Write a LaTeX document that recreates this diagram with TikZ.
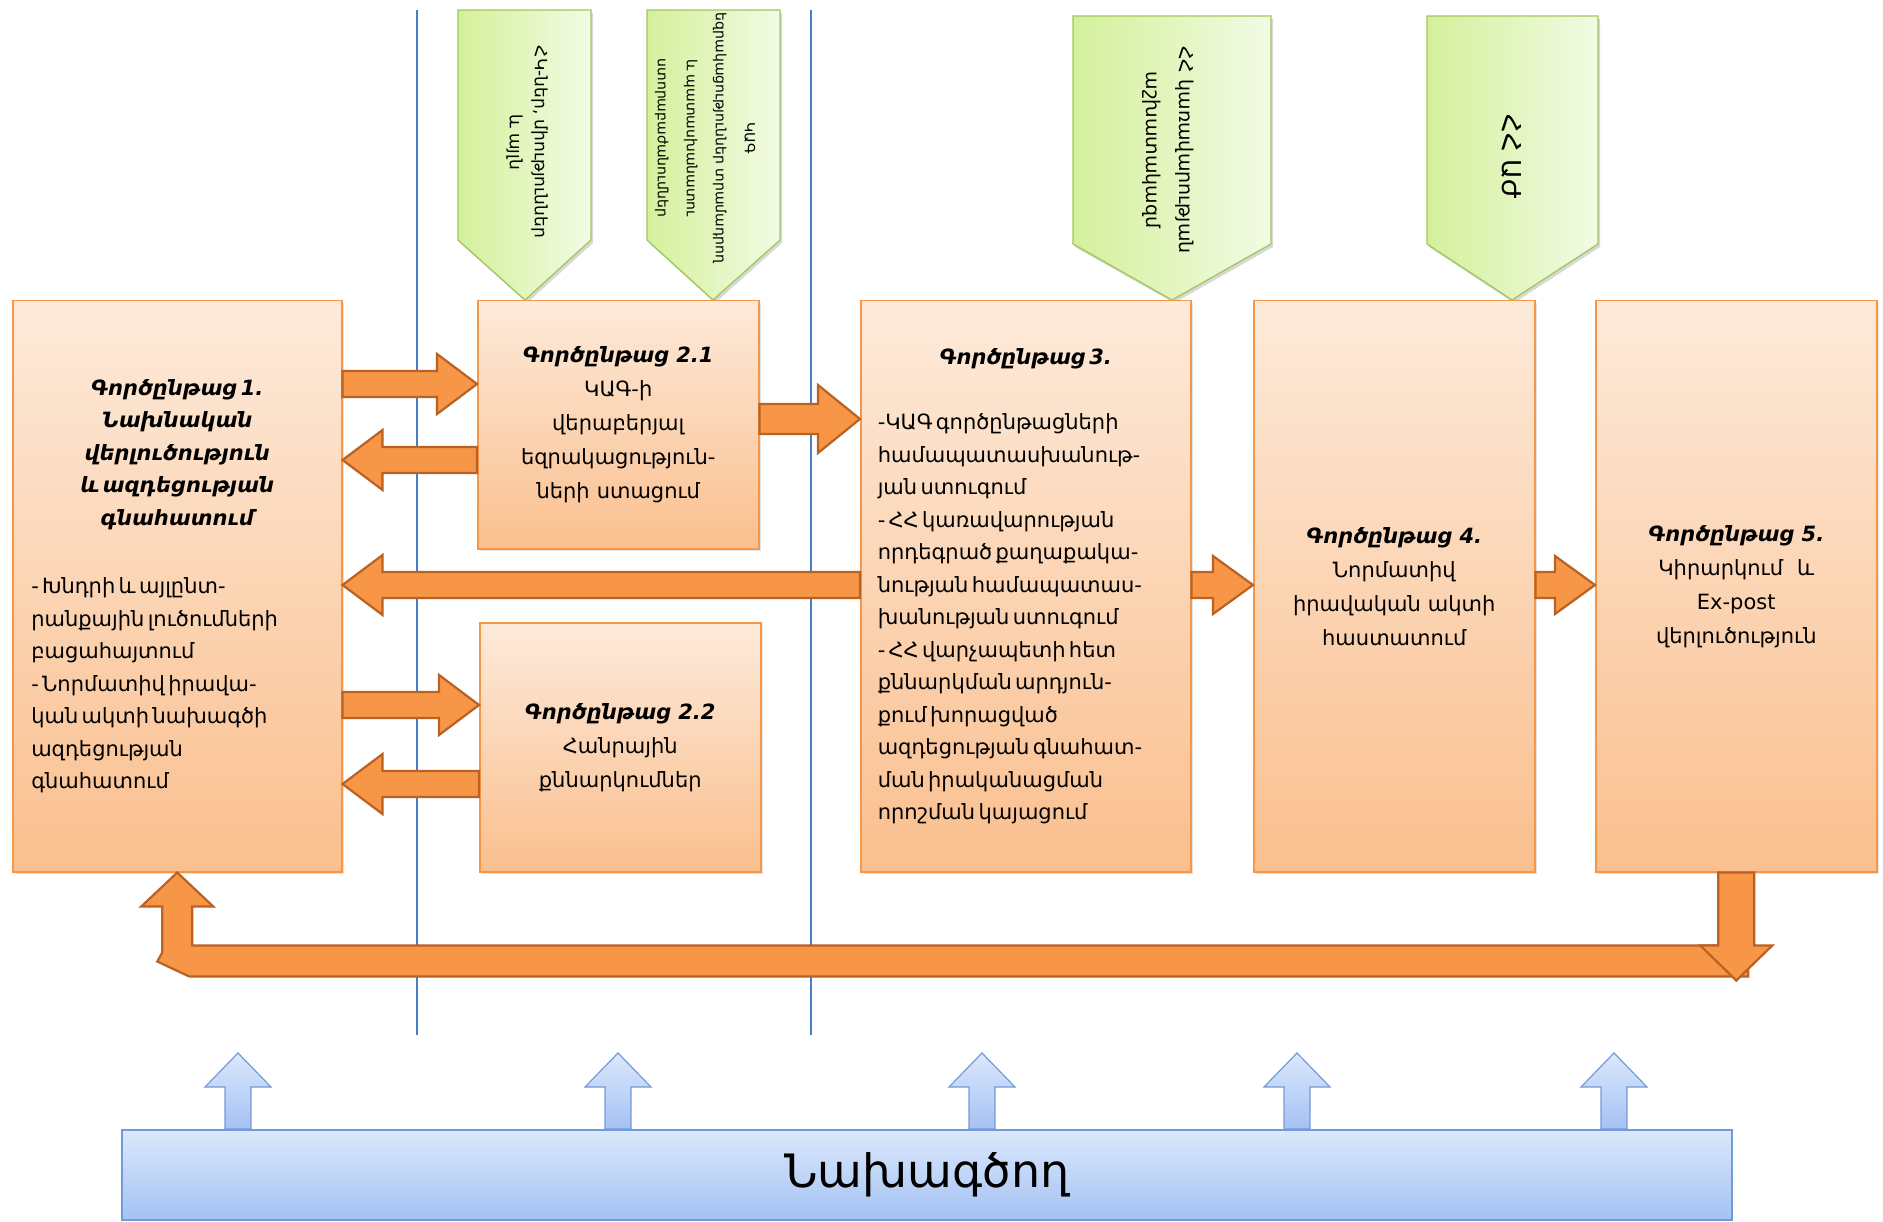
\documentclass[tikz,border=0pt]{standalone}
\usepackage{fontspec}
\setmainfont{DejaVu Sans}
\usetikzlibrary{calc,shadows}
\setlength\parindent{0pt}
\hyphenpenalty=10000
\exhyphenpenalty=10000
\definecolor{oborder}{RGB}{247,150,70}
\definecolor{otop}{RGB}{253,234,218}
\definecolor{obot}{RGB}{250,191,142}
\definecolor{oarr}{RGB}{247,150,70}
\definecolor{oarrd}{RGB}{185,98,36}
\definecolor{gborder}{RGB}{160,200,95}
\definecolor{gleft}{RGB}{212,240,155}
\definecolor{gright}{RGB}{242,251,228}
\definecolor{btop}{RGB}{220,232,252}
\definecolor{bbot}{RGB}{164,194,243}
\definecolor{bborder}{RGB}{115,155,215}
\definecolor{vline}{RGB}{72,125,200}
\newcommand\bodyfont{\fontsize{21}{32.5}\selectfont}
\newcommand\cfont{\fontsize{21}{34}\selectfont}
\newcommand\harrow[5]{%
  \path[oarrow] let \p1=#1, \p2=#2, \p3=($(\p2)!#5!(\p1)$) in
  (\x1,\y1+#3) -- (\x3,\y1+#3) -- (\x3,\y1+#4) -- (\x2,\y2) --
  (\x3,\y1-#4) -- (\x3,\y1-#3) -- (\x1,\y1-#3) -- cycle;}
\newcommand\uparr[2]{%
  \path[barrow] let \p1=#1, \p2=#2 in
  (\x1-13pt,\y1) -- (\x1-13pt,\y2-34pt) -- (\x1-33pt,\y2-34pt) -- (\x1,\y2) --
  (\x1+33pt,\y2-34pt) -- (\x1+13pt,\y2-34pt) -- (\x1+13pt,\y1) -- cycle;}
\tikzset{
  pbox/.style={draw=oborder, line width=1.5pt, top color=otop, bottom color=obot,
    anchor=north west, inner sep=0pt, text=black,
    drop shadow={opacity=0.22, shadow xshift=2pt, shadow yshift=-2pt}},
  oarrow/.style={fill=oarr, draw=oarrd, line width=2.2pt, line join=miter},
  barrow/.style={top color=btop, bottom color=bbot, draw=bborder, line width=1.2pt},
  gcall/.style={draw=gborder, line width=1.3pt, left color=gleft, right color=gright,
    drop shadow={opacity=0.3, shadow xshift=2pt, shadow yshift=-3pt}},
  ctext/.style={rotate=-90, align=center, inner sep=0pt, text=black},
  vsep/.style={draw=vline, line width=2pt}
}
\begin{document}
\begin{tikzpicture}[x=1pt,y=-1pt]
\useasboundingbox (0,0) rectangle (1883,1222);
\fill[white] (0,0) rectangle (1883,1222);

% separators
\draw[vsep] (417,10) -- (417,1035);
\draw[vsep] (811,10) -- (811,1035);

% green callouts
\path[gcall] (458,10) -- (591,10) -- (591,240) -- (525,300) -- (458,240) -- cycle;
\path[gcall] (647,10) -- (780,10) -- (780,240) -- (713,300) -- (647,240) -- cycle;
\path[gcall] (1073,16) -- (1271,16) -- (1271,244) -- (1172,300) -- (1073,244) -- cycle;
\path[gcall] (1427,16) -- (1598,16) -- (1598,244) -- (1512,300) -- (1427,244) -- cycle;
\node[ctext, font=\fontsize{17}{25}\selectfont] (c1) at (527,142) {ՀԿ-ներ, միություններ\\և այլն};
\node[ctext, font=\fontsize{14}{29}\selectfont] (c2) at (705,138) {ԿԱԳ\\եզրակացություններ տրամադրող\\և պատասխանատու\\ստորաբաժանումներ};
\node[ctext, font=\fontsize{19}{33}\selectfont] (c3) at (1168,150) {ՀՀ կառավարության\\աշխատակազմ};
\node[ctext, font=\fontsize{26}{30}\selectfont] (c4) at (1512,157) {ՀՀ ԱԺ};

% process boxes
\node[pbox, minimum width=329pt, minimum height=571pt, text width=292pt] (b1) at (12,300) {\bodyfont
  {\centering\bfseries\itshape Գործընթաց 1.\\ Նախնական\\ վերլուծություն\\ և ազդեցության\\ գնահատում\par}
  \vspace{36pt}
  {\raggedright - Խնդրի և այլընտ-\\ րանքային լուծումների\\ բացահայտում\\ - Նորմատիվ իրավա-\\ կան ակտի նախագծի\\ ազդեցության\\ գնահատում\par}};
\node[pbox, minimum width=281pt, minimum height=248pt, text width=265pt, align=center, font=\cfont] (b21) at (477,300)
  {{\bfseries\itshape Գործընթաց 2.1}\\ ԿԱԳ-ի\\ վերաբերյալ\\ եզրակացություն-\\ ների ստացում};
\node[pbox, minimum width=281pt, minimum height=249pt, text width=265pt, align=center, font=\cfont] (b22) at (479,622)
  {{\bfseries\itshape Գործընթաց 2.2}\\ Հանրային\\ քննարկումներ};
\node[pbox, minimum width=330pt, minimum height=571pt, text width=296pt] (b3) at (860,300) {\bodyfont
  {\centering\bfseries\itshape Գործընթաց 3.\par}
  \vspace{33pt}
  {\raggedright -ԿԱԳ գործընթացների\\ համապատասխանութ-\\ յան ստուգում\\ - ՀՀ կառավարության\\ որդեգրած քաղաքակա-\\ նության համապատաս-\\ խանության ստուգում\\ - ՀՀ վարչապետի հետ\\ քննարկման արդյուն-\\ քում խորացված\\ ազդեցության գնահատ-\\ ման իրականացման\\ որոշման կայացում\par}};
\node[pbox, minimum width=281pt, minimum height=571pt, text width=265pt, align=center, font=\cfont] (b4) at (1253,300)
  {{\bfseries\itshape Գործընթաց 4.}\\ Նորմատիվ\\ իրավական ակտի\\ հաստատում};
\node[pbox, minimum width=281pt, minimum height=571pt, text width=265pt, align=center, font=\cfont] (b5) at (1595,300)
  {{\bfseries\itshape Գործընթաց 5.}\\ Կիրարկում~~և\\ Ex-post\\ վերլուծություն};

% orange connectors
\harrow{(b1.east |- 0,384)}{(b21.west |- 0,384)}{13pt}{30pt}{40pt}
\harrow{(b21.west |- 0,460)}{(b1.east |- 0,460)}{13pt}{30pt}{40pt}
\harrow{(b21.east |- 0,419)}{(b3.west |- 0,419)}{15pt}{34pt}{42pt}
\harrow{(b3.west |- 0,585)}{(b1.east |- 0,585)}{13pt}{30pt}{40pt}
\harrow{(b1.east |- 0,705)}{(b22.west |- 0,705)}{13pt}{30pt}{40pt}
\harrow{(b22.west |- 0,784)}{(b1.east |- 0,784)}{13pt}{30pt}{40pt}
\harrow{(b3.east |- 0,585)}{(b4.west |- 0,585)}{13pt}{29pt}{40pt}
\harrow{(b4.east |- 0,585)}{(b5.west |- 0,585)}{13pt}{29pt}{40pt}

% feedback loop from process 5 to process 1
\path[oarrow] let \p1=(b5.south), \p2=(b1.south) in
  (\x2,\y2) -- (\x2+36pt,\y2-34pt) -- (\x2+15pt,\y2-34pt) -- (\x2+15pt,\y1-73pt) --
  (\x1+12pt,\y1-73pt) -- (\x1+12pt,\y1-104pt) -- (\x2+12pt,\y1-104pt) --
  (\x2-20pt,\y1-89pt) -- (\x2-15pt,\y1-80pt) -- (\x2-15pt,\y2-34pt) -- (\x2-36pt,\y2-34pt) -- cycle;
\path[oarrow] let \p1=(b5.south) in
  (\x1-18pt,\y1) -- (\x1+18pt,\y1) -- (\x1+18pt,\y1-73pt) -- (\x1+36pt,\y1-73pt) --
  (\x1,\y1-108pt) -- (\x1-36pt,\y1-73pt) -- (\x1-18pt,\y1-73pt) -- cycle;

% designer bar
\node[anchor=north west, minimum width=1610pt, minimum height=90pt, inner sep=0pt,
  top color=btop, bottom color=bbot, draw=bborder, line width=1.5pt,
  font=\fontsize{46}{50}\selectfont] (nbar) at (121,1129) {Նախագծող};
\coordinate (u1) at (238,1053);
\coordinate (u2) at (618,1053);
\coordinate (u3) at (982,1053);
\coordinate (u4) at (1297,1053);
\coordinate (u5) at (1614,1053);
\uparr{(nbar.north -| u1)}{(u1)}
\uparr{(nbar.north -| u2)}{(u2)}
\uparr{(nbar.north -| u3)}{(u3)}
\uparr{(nbar.north -| u4)}{(u4)}
\uparr{(nbar.north -| u5)}{(u5)}
\end{tikzpicture}
\end{document}
